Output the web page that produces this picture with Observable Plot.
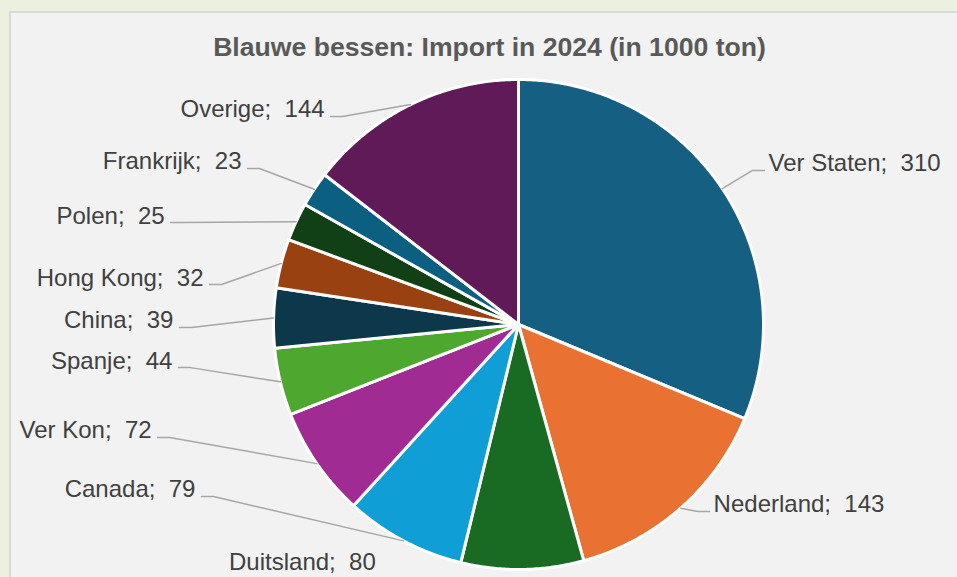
<!DOCTYPE html>
<html>
<head>
<meta charset="utf-8">
<script src="https://cdn.jsdelivr.net/npm/d3@7"></script>
<script src="https://cdn.jsdelivr.net/npm/@observablehq/plot@0.6"></script>
<style>
  html, body { margin: 0; padding: 0; }
  body { width: 957px; height: 577px; overflow: hidden; position: relative; background: #ebf1de; font-family: "Liberation Sans", Arial, sans-serif; }
  #panel { position: absolute; left: 9px; top: 11px; width: 1000px; height: 700px; background: #f2f2f2; border: 2px solid #d9d9d9; box-sizing: border-box; }
  #title { position: absolute; left: 0; top: 34px; width: 979px; text-align: center; font-weight: bold; font-size: 26.6px; line-height: 26px; color: #595959; white-space: nowrap; }
  #chart { position: absolute; left: 0; top: 62px; }
</style>
</head>
<body>
<div id="panel"></div>
<div id="title">Blauwe bessen: Import in 2024 (in 1000 ton)</div>
<div id="chart"></div>
<script>
// ---- data ----
const categories = ["Ver Staten", "Nederland", "Duitsland", "Canada", "Ver Kon", "Spanje", "China", "Hong Kong", "Polen", "Frankrijk", "Overige"];
const values = [310, 143, 80, 79, 72, 44, 39, 32, 25, 23, 144];

// ---- styles ----
const colors = ["#156082", "#e97132", "#196b24", "#0f9ed5", "#a02b93", "#4ea72e", "#0d384c", "#9a4111", "#113f16", "#0b5f80", "#611a58"];

// ---- label layout (pie-radius units, origin at pie centre, y up) ----
const labelX = [1.004, 0.780, -0.882, -1.294, -1.473, -1.388, -1.384, -1.261, -1.420, -1.106, -0.767];
const labelY = [0.629, -0.763, -1.004, -0.702, -0.461, -0.176, -0.012, 0.163, 0.416, 0.637, 0.849];
const labelSide = ["right", "right", "below", "left", "left", "left", "left", "left", "left", "left", "left"];

const total = d3.sum(values);
const W = 957, H = 515;
const cx = 518, cy = 262, R = 245; // pixel layout of the pie inside the svg
const xDomain = [-cx / R, (W - cx) / R];
const yDomain = [(cy - H) / R, cy / R];

// slices
const slicePts = [];
const arcPts = [];
let cum = 0;
categories.forEach((name, i) => {
  const a0 = cum / total * 2 * Math.PI;
  cum += values[i];
  const a1 = cum / total * 2 * Math.PI;
  slicePts.push({name, x: 0, y: 0});
  const n = Math.max(4, Math.ceil((a1 - a0) / (Math.PI / 360)));
  for (let k = 0; k <= n; k++) {
    const a = a0 + (a1 - a0) * k / n;
    slicePts.push({name, x: Math.sin(a), y: Math.cos(a)});
  }
  const am = (a0 + a1) / 2;
  arcPts.push({x: Math.sin(am), y: Math.cos(am)});
});

// leaders and labels
const leaderPts = [];
const labels = [];
categories.forEach((name, i) => {
  const side = labelSide[i];
  labels.push({
    text: `${name};\u00a0\u00a0${values[i]}`,
    x: labelX[i], y: labelY[i], side
  });
  if (side === "below") return;
  const elbow = side === "left" ? labelX[i] + 12 / R : labelX[i] - 12 / R;
  leaderPts.push({name, x: labelX[i], y: labelY[i]});
  leaderPts.push({name, x: elbow, y: labelY[i]});
  leaderPts.push({name, x: arcPts[i].x, y: arcPts[i].y});
});

const textCommon = {
  x: "x", y: "y", text: "text",
  fontSize: 24, fill: "#404040", lineAnchor: "bottom",
  fontFamily: "Liberation Sans, Arial, sans-serif"
};

const chart = Plot.plot({
  width: W,
  height: H,
  margin: 0,
  style: {background: "none", overflow: "visible"},
  x: {domain: xDomain, axis: null},
  y: {domain: yDomain, axis: null},
  color: {domain: categories, range: colors},
  marks: [
    Plot.line(slicePts, {
      x: "x", y: "y", z: "name", fill: "name",
      stroke: "white", strokeWidth: 3, strokeLinejoin: "round",
      curve: "linear-closed"
    }),
    Plot.line(leaderPts, {
      x: "x", y: "y", z: "name",
      stroke: "#a6a6a6", strokeWidth: 1.5
    }),
    Plot.text(labels.filter(d => d.side === "left"), {...textCommon, textAnchor: "end", dx: -6, dy: 1}),
    Plot.text(labels.filter(d => d.side === "right"), {...textCommon, textAnchor: "start", dx: 4, dy: 1}),
    Plot.text(labels.filter(d => d.side === "below"), {...textCommon, textAnchor: "middle", dy: 0})
  ]
});
document.getElementById("chart").appendChild(chart);
</script>
</body>
</html>
